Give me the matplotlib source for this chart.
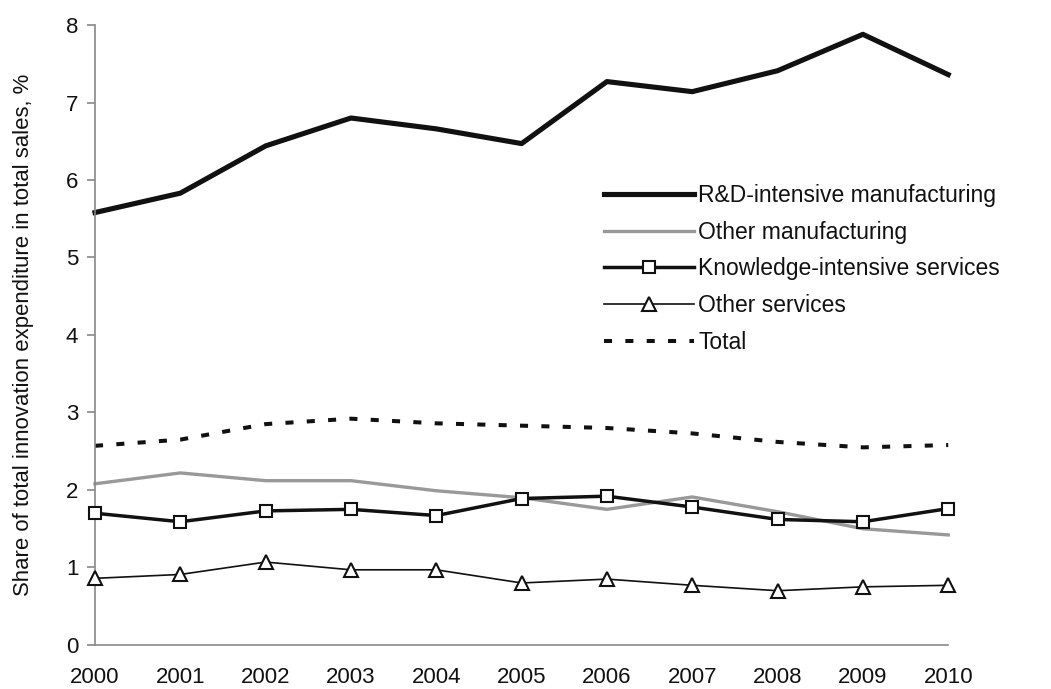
import matplotlib
matplotlib.use("Agg")
import matplotlib.pyplot as plt

plt.rcParams['font.family'] = ['Liberation Sans', 'DejaVu Sans']

years = [2000, 2001, 2002, 2003, 2004, 2005, 2006, 2007, 2008, 2009, 2010]
rd_manuf = [5.58, 5.83, 6.44, 6.80, 6.66, 6.47, 7.27, 7.14, 7.41, 7.88, 7.36]
other_manuf = [2.08, 2.22, 2.12, 2.12, 1.99, 1.90, 1.75, 1.91, 1.72, 1.50, 1.42]
kis = [1.70, 1.59, 1.73, 1.75, 1.67, 1.89, 1.92, 1.78, 1.62, 1.59, 1.76]
other_serv = [0.86, 0.91, 1.07, 0.97, 0.97, 0.80, 0.85, 0.77, 0.70, 0.75, 0.77]
total = [2.57, 2.65, 2.85, 2.92, 2.86, 2.83, 2.80, 2.73, 2.62, 2.55, 2.58]
labels = ["R&D-intensive manufacturing", "Other manufacturing",
          "Knowledge-intensive services", "Other services", "Total"]
yticks = [0, 1, 2, 3, 4, 5, 6, 7, 8]

dark = '#111111'

fig = plt.figure(figsize=(10.51, 6.89), dpi=100)
ax = fig.add_axes([0.0904, 0.0639, 0.8118, 0.8998])

ax.plot(years, rd_manuf, color=dark, lw=3.7, label=labels[0], clip_on=False, solid_joinstyle='round')
ax.plot(years, other_manuf, color='#999999', lw=2.4, label=labels[1], clip_on=False)
ax.plot(years, kis, color=dark, lw=2.5, marker='s', markersize=8.5,
        markerfacecolor='white', markeredgecolor=dark, markeredgewidth=1.5,
        label=labels[2], clip_on=False, zorder=4)
ax.plot(years, other_serv, color=dark, lw=1.2, marker='^', markersize=10,
        markerfacecolor='white', markeredgecolor=dark, markeredgewidth=1.5,
        label=labels[3], clip_on=False, zorder=4)
ax.plot(years, total, color=dark, lw=2.9, linestyle=(0, (2.0, 3.3)),
        label=labels[4], clip_on=False)

ax.set_xlim(2000, 2010)
ax.set_ylim(0, 8)
ax.set_xticks(years)
ax.set_xticklabels([str(y) for y in years])
ax.set_yticks(yticks)
ax.set_yticklabels([str(t) for t in yticks])

for s in ['top', 'right']:
    ax.spines[s].set_visible(False)
for s in ['left', 'bottom']:
    ax.spines[s].set_color('#888888')
    ax.spines[s].set_linewidth(1.2)

ax.tick_params(axis='y', direction='out', length=6, width=1.2, color='#888888',
               labelsize=16, labelcolor=dark, pad=6)
ax.tick_params(axis='x', length=0, labelsize=16, labelcolor=dark, pad=16)

ax.set_ylabel("Share of total innovation expenditure in total sales, %",
              fontsize=15.9, color=dark, labelpad=23)

leg = fig.legend(loc='upper left', bbox_to_anchor=(0.575, 0.733), frameon=False,
                 fontsize=16.5, handlelength=3.9, handletextpad=0.2, labelspacing=0.6,
                 borderaxespad=0, borderpad=0)
for t in leg.get_texts():
    t.set_color(dark)

fig.savefig('out.png', dpi=100)
